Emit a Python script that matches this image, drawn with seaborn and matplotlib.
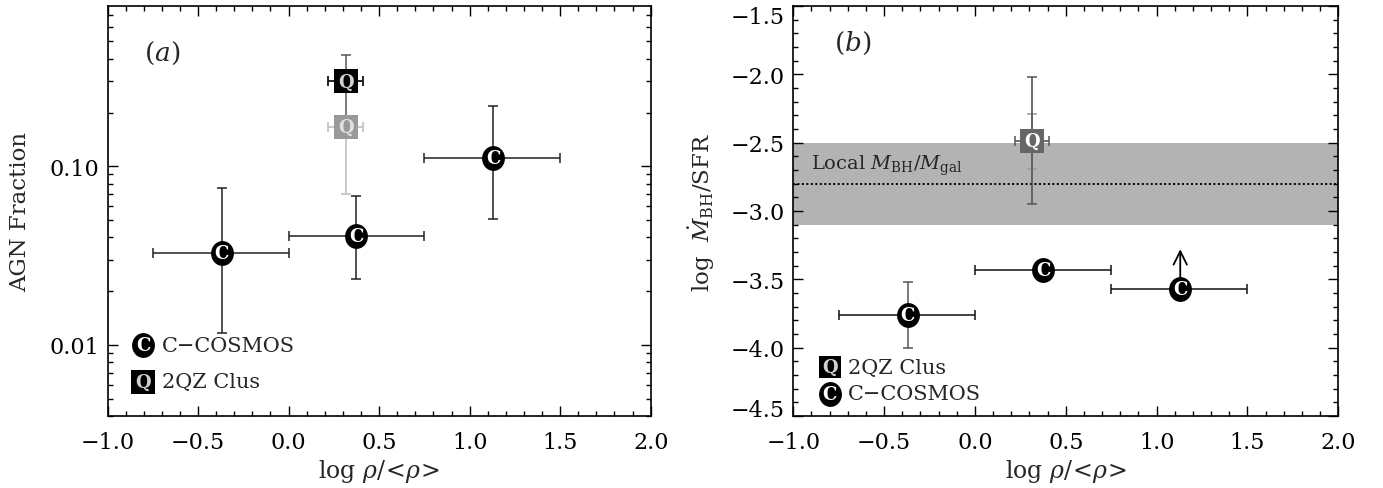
import numpy as np
import matplotlib
matplotlib.use('Agg')
import matplotlib.pyplot as plt
import seaborn as sns
from matplotlib.path import Path
from matplotlib.transforms import Affine2D, ScaledTranslation
from matplotlib.ticker import MultipleLocator, FixedLocator, LogLocator, NullFormatter, FuncFormatter

# ---- data ----
# C-COSMOS density bins
cc_x = [-0.37, 0.375, 1.13]
cc_xlo = [-0.75, 0.0, 0.75]
cc_xhi = [0.0, 0.75, 1.5]

# panel (a): AGN fraction
cc_frac = [0.0327, 0.0409, 0.111]
cc_frac_lo = [0.0117, 0.0234, 0.0507]
cc_frac_hi = [0.0759, 0.0685, 0.218]

# 2QZ clusters
qz_x = [0.315]
qz_xlo = [0.22]
qz_xhi = [0.41]
qz_frac = [0.299]
qz_frac_lo = [0.185]
qz_frac_hi = [0.42]
qz_frac_alt = [0.167]
qz_frac_alt_lo = [0.070]

# panel (b): log Mdot_BH / SFR
cc_ratio = [-3.76, -3.43, -3.57]
cc_ratio_lo = [-4.0, np.nan, np.nan]
cc_ratio_hi = [-3.52, np.nan, np.nan]
cc_ratio_limit = [np.nan, np.nan, -3.28]   # lower limit arrow tip

qz_ratio = [-2.49]
qz_ratio_lo = [-2.95]
qz_ratio_hi = [-2.02]
qz_ratio_in_lo = [-2.69]
qz_ratio_in_hi = [-2.29]

local_lo, local_hi, local_mid = -3.1, -2.5, -2.8

# ---- style ----
sns.set_style('ticks')
plt.rcParams['font.family'] = ['DejaVu Serif']
plt.rcParams['mathtext.fontset'] = 'dejavuserif'

W, H = 1383, 489
fig = plt.figure(figsize=(W / 100, H / 100), dpi=100)
ax1 = fig.add_axes([107.5 / W, 1 - 417 / H, 543.2 / W, 410 / H])
ax2 = fig.add_axes([793.3 / W, 1 - 417 / H, 545.0 / W, 410 / H])

ellipse = Path.unit_circle().transformed(Affine2D().scale(0.92, 1.0))
S_C = 320   # circle marker area
S_Q = 300   # square marker area


def fmt1(v, pos):
    return f'{v:.1f}'.replace('-', '\u2212')


def style_axes(ax):
    ax.set_xlim(-1, 2)
    ax.xaxis.set_major_locator(MultipleLocator(0.5))
    ax.xaxis.set_minor_locator(MultipleLocator(0.1))
    ax.xaxis.set_major_formatter(FuncFormatter(fmt1))
    ax.tick_params(which='both', direction='in', top=True, right=True, width=1.0, colors='black')
    ax.tick_params(which='major', length=7)
    ax.tick_params(which='minor', length=3.5)
    ax.tick_params(axis='x', which='major', pad=11, labelsize=16)
    ax.tick_params(axis='y', which='major', pad=6, labelsize=16)
    for s in ax.spines.values():
        s.set_linewidth(1.2)
        s.set_color('black')
    ax.set_xlabel(r'log $\rho/\!<\!\rho\!>$', fontsize=17, labelpad=3)


def letters(ax, xs, ys, ch, color, size=13, transform=None):
    for x, y in zip(xs, ys):
        kw = {} if transform is None else {'transform': transform}
        ax.text(x, y, ch, color=color, fontsize=size, fontweight='bold',
                ha='center', va='center', zorder=7, **kw)


# ---- panel (a) ----
ax = ax1
ax.set_yscale('log')
ax.set_ylim(0.004, 0.79)
ax.yaxis.set_major_locator(FixedLocator([0.01, 0.1]))
ax.yaxis.set_major_formatter(FuncFormatter(lambda v, p: f'{v:.2f}'))
ax.yaxis.set_minor_locator(LogLocator(base=10, subs=np.arange(2, 10)))
ax.yaxis.set_minor_formatter(NullFormatter())

cx = np.array(cc_x)
ax.errorbar(cx, cc_frac,
            xerr=[cx - np.array(cc_xlo), np.array(cc_xhi) - cx],
            yerr=[np.array(cc_frac) - np.array(cc_frac_lo), np.array(cc_frac_hi) - np.array(cc_frac)],
            fmt='none', ecolor='#222222', elinewidth=1.1, capsize=3.5, capthick=1.1, zorder=2)

qx = np.array(qz_x)
xerr_q = [qx - np.array(qz_xlo), np.array(qz_xhi) - qx]
# grey 2QZ point
ax.errorbar(qx, qz_frac_alt, xerr=xerr_q,
            yerr=[np.array(qz_frac_alt) - np.array(qz_frac_alt_lo), [0.0]],
            fmt='none', ecolor='#bbbbbb', elinewidth=1.1, capsize=3.5, capthick=1.1, zorder=2)
# black 2QZ point
ax.errorbar(qx, qz_frac, xerr=xerr_q,
            yerr=[np.array(qz_frac) - np.array(qz_frac_lo), np.array(qz_frac_hi) - np.array(qz_frac)],
            fmt='none', ecolor='#555555', elinewidth=1.1, capsize=3.5, capthick=1.1, zorder=2)
ax.errorbar(qx, qz_frac, xerr=xerr_q, fmt='none', ecolor='#111111',
            elinewidth=1.1, capsize=3.5, capthick=1.1, zorder=3)

sns.scatterplot(x=qz_x, y=qz_frac_alt, marker='s', s=S_Q, color='#999999', linewidth=0, ax=ax, zorder=5)
sns.scatterplot(x=qz_x, y=qz_frac, marker='s', s=S_Q, color='black', linewidth=0, ax=ax, zorder=5)
sns.scatterplot(x=cc_x, y=cc_frac, marker=ellipse, s=S_C, color='black', linewidth=0, ax=ax, zorder=5)
letters(ax, qz_x, qz_frac_alt, 'Q', '#e0e0e0')
letters(ax, qz_x, qz_frac, 'Q', '#d0d0d0')
letters(ax, cc_x, cc_frac, 'C', 'white')

ax.text(0.068, 0.888, r'$(a)$', transform=ax.transAxes, fontsize=19, ha='left', va='center')

# legend (a)
ax.scatter([0.066], [0.173], marker=ellipse, s=S_C, color='black', lw=0, transform=ax.transAxes, zorder=5)
letters(ax, [0.066], [0.173], 'C', 'white', transform=ax.transAxes)
ax.text(0.1, 0.173, 'C\u2212COSMOS', transform=ax.transAxes, fontsize=15, ha='left', va='center')
ax.scatter([0.066], [0.084], marker='s', s=S_Q, color='black', lw=0, transform=ax.transAxes, zorder=5)
letters(ax, [0.066], [0.084], 'Q', '#d0d0d0', transform=ax.transAxes)
ax.text(0.1, 0.084, '2QZ Clus', transform=ax.transAxes, fontsize=15, ha='left', va='center')

style_axes(ax)
ax.set_ylabel('AGN Fraction', fontsize=16.5, labelpad=13)

# ---- panel (b) ----
ax = ax2
ax.set_ylim(-4.5, -1.5)
ax.yaxis.set_major_locator(MultipleLocator(0.5))
ax.yaxis.set_minor_locator(MultipleLocator(0.1))
ax.yaxis.set_major_formatter(FuncFormatter(fmt1))

ax.axhspan(local_lo, local_hi, color='#b3b3b3', lw=0, zorder=0)
ax.axhline(local_mid, color='black', ls=(0, (1, 1.3)), lw=1.4, zorder=1)
ax.text(-0.9, -2.69, r'Local $M_{\rm BH}/M_{\rm gal}$', fontsize=14, ha='left', va='baseline', zorder=1)

# 2QZ
ax.errorbar(qx, qz_ratio,
            yerr=[np.array(qz_ratio) - np.array(qz_ratio_in_lo), np.array(qz_ratio_in_hi) - np.array(qz_ratio)],
            fmt='none', ecolor='#999999', elinewidth=1.1, capsize=3.5, capthick=1.1, zorder=2)
ax.errorbar(qx, qz_ratio, xerr=xerr_q,
            yerr=[np.array(qz_ratio) - np.array(qz_ratio_lo), np.array(qz_ratio_hi) - np.array(qz_ratio)],
            fmt='none', ecolor='#555555', elinewidth=1.2, capsize=3.5, capthick=1.1, zorder=3)

# C-COSMOS
for i in range(len(cc_x)):
    xe = [[cc_x[i] - cc_xlo[i]], [cc_xhi[i] - cc_x[i]]]
    if not np.isnan(cc_ratio_lo[i]):
        ye = [[cc_ratio[i] - cc_ratio_lo[i]], [cc_ratio_hi[i] - cc_ratio[i]]]
        ax.errorbar([cc_x[i]], [cc_ratio[i]], yerr=ye, fmt='none', ecolor='#555555',
                    elinewidth=1.1, capsize=3.5, capthick=1.1, zorder=2)
    ax.errorbar([cc_x[i]], [cc_ratio[i]], xerr=xe, fmt='none', ecolor='#111111',
                elinewidth=1.1, capsize=3.5, capthick=1.1, zorder=2)
    if not np.isnan(cc_ratio_limit[i]):
        ax.annotate('', xy=(cc_x[i], cc_ratio_limit[i]), xytext=(cc_x[i], cc_ratio[i]),
                    arrowprops=dict(arrowstyle='->', color='black', lw=1.3, mutation_scale=24,
                                    shrinkA=0, shrinkB=0), zorder=2)

sns.scatterplot(x=qz_x, y=qz_ratio, marker='s', s=S_Q, color='#666666', linewidth=0, ax=ax, zorder=5)
sns.scatterplot(x=cc_x, y=cc_ratio, marker=ellipse, s=S_C, color='black', linewidth=0, ax=ax, zorder=5)
letters(ax, qz_x, qz_ratio, 'Q', 'white')
letters(ax, cc_x, cc_ratio, 'C', 'white')

ax.text(0.075, 0.91, r'$(b)$', transform=ax.transAxes, fontsize=19, ha='left', va='center')

# legend (b)
ax.scatter([0.067], [0.119], marker='s', s=270, color='black', lw=0, transform=ax.transAxes, zorder=5)
letters(ax, [0.067], [0.119], 'Q', '#d0d0d0', transform=ax.transAxes)
ax.text(0.1, 0.119, '2QZ Clus', transform=ax.transAxes, fontsize=15, ha='left', va='center')
ax.scatter([0.067], [0.054], marker=ellipse, s=S_C, color='black', lw=0, transform=ax.transAxes, zorder=5)
letters(ax, [0.067], [0.054], 'C', 'white', transform=ax.transAxes)
ax.text(0.1, 0.054, 'C\u2212COSMOS', transform=ax.transAxes, fontsize=15, ha='left', va='center')

style_axes(ax)
ax.set_ylabel(r'log  $\dot{M}_{\rm BH}$/SFR', fontsize=16.5, labelpad=10)

# edge labels sit a little inside the frame
fig.canvas.draw()
for t in ax.yaxis.get_major_ticks():
    loc = t.get_loc()
    if np.isclose(loc, -1.5):
        t.label1.set_transform(t.label1.get_transform() + ScaledTranslation(0, -0.09, fig.dpi_scale_trans))
    elif np.isclose(loc, -4.5):
        t.label1.set_transform(t.label1.get_transform() + ScaledTranslation(0, 0.08, fig.dpi_scale_trans))

fig.savefig('out.png', dpi=100)
